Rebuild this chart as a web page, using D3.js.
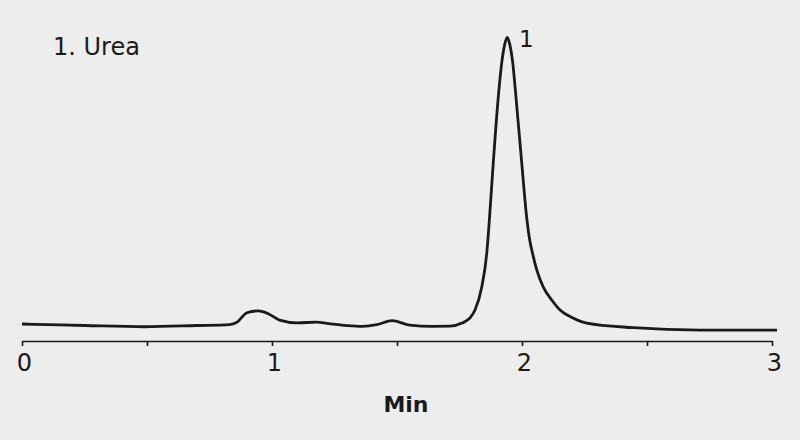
<!DOCTYPE html>
<html>
<head>
<meta charset="utf-8">
<script src="https://cdn.jsdelivr.net/npm/d3@7"></script>
<style>
  body { margin: 0; background: #ededed; }
  svg { display: block; }
  text { font-family: "DejaVu Sans", Verdana, sans-serif; fill: #1a1a1a; }
</style>
</head>
<body>
<script>
// retention time (min) and detector signal (relative, peak = 100)
var times = [0, 0.10, 0.25, 0.49, 0.70, 0.83, 0.86, 0.90, 0.945, 0.985, 1.03, 1.10, 1.18, 1.22,
  1.30, 1.36, 1.42, 1.48, 1.55, 1.64, 1.712, 1.76, 1.792, 1.812, 1.839, 1.859, 1.868, 1.885,
  1.905, 1.920, 1.930, 1.941, 1.952, 1.962, 1.976, 1.999, 2.019, 2.031, 2.043, 2.059, 2.085, 2.119,
  2.152, 2.204, 2.259, 2.445, 2.712, 3.02];
var signal = [5.6, 5.4, 5.1, 4.7, 5.1, 5.4, 6.2, 9.3, 9.9, 9.0, 6.9, 6.0, 6.2, 5.8,
  5.1, 4.85, 5.4, 6.7, 5.25, 4.85, 4.9, 5.9, 7.6, 10.2, 17.8, 28.9, 38.2, 58.6,
  80.3, 92.4, 97.4, 100, 97.4, 92.4, 80.3, 58.6, 40.5, 33.2, 28.6, 23.4, 17.8, 13.5,
  10.2, 7.6, 5.9, 4.4, 3.6, 3.6];
var tickVals = [0, 0.5, 1, 1.5, 2, 2.5, 3];
var peakLabels = ["1"];
var peakTimes = [1.941];
var peakHeights = [100];
var legendText = "1. Urea";

var width = 800, height = 440;

var svg = d3.select("body").append("svg")
    .attr("width", width)
    .attr("height", height);

var x = d3.scaleLinear().domain([0, 3]).range([22, 772]);
var y = d3.scaleLinear().domain([0, 100]).range([341, 37.5]);

var axis = d3.axisBottom(x)
    .tickValues(tickVals)
    .tickSize(5)
    .tickSizeOuter(0)
    .tickPadding(8)
    .tickFormat(function (d) { return Number.isInteger(d) ? d : ""; });

var gx = svg.append("g")
    .attr("transform", "translate(0," + y(0) + ")")
    .call(axis);
gx.select(".domain").attr("stroke", "#1a1a1a").attr("stroke-width", 1.6);
gx.selectAll(".tick line").attr("stroke", "#1a1a1a").attr("stroke-width", 1.6);
gx.selectAll(".tick text")
    .attr("font-size", 24)
    .attr("dx", 2)
    .attr("fill", "#1a1a1a")
    .style("font-family", "'DejaVu Sans', Verdana, sans-serif");

svg.append("text")
    .attr("x", 406)
    .attr("y", 412)
    .attr("text-anchor", "middle")
    .attr("font-size", 22)
    .attr("font-weight", "bold")
    .text("Min");

var data = times.map(function (t, i) { return [t, signal[i]]; });

var line = d3.line()
    .x(function (d) { return x(d[0]); })
    .y(function (d) { return y(d[1]); })
    .curve(d3.curveMonotoneX);

svg.append("path")
    .datum(data)
    .attr("fill", "none")
    .attr("stroke", "#1a1a1a")
    .attr("stroke-width", 2.8)
    .attr("stroke-linejoin", "round")
    .attr("d", line);

svg.selectAll(".peak-label")
    .data(peakLabels)
    .enter().append("text")
    .attr("class", "peak-label")
    .attr("x", function (d, i) { return x(peakTimes[i]) + 19; })
    .attr("y", function (d, i) { return y(peakHeights[i]) + 9; })
    .attr("text-anchor", "middle")
    .attr("font-size", 23)
    .text(function (d) { return d; });

svg.append("text")
    .attr("x", 53)
    .attr("y", 55)
    .attr("font-size", 24)
    .text(legendText);
</script>
</body>
</html>
